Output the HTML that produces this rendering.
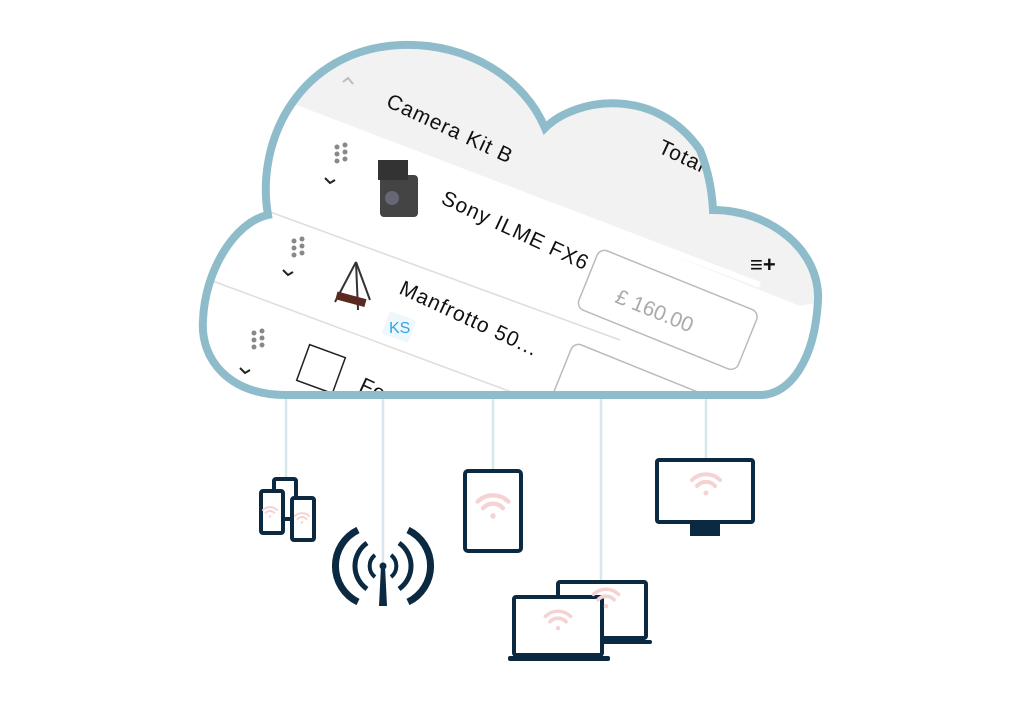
<!DOCTYPE html>
<html><head><meta charset="utf-8"><style>
html,body{margin:0;padding:0;background:#fff;}
svg{display:block;font-family:"Liberation Sans",sans-serif;}
</style></head><body>
<svg width="1024" height="724" viewBox="0 0 1024 724">
<defs>
<clipPath id="c"><path d="M285 395 C230 395 200 360 203 320 C205 270 235 222 268 215 C255 140 300 50 400 45 C470 42 525 80 545 128 C575 98 655 85 700 150 C708 170 712 190 713 210 C770 210 820 250 818 300 C815 360 790 395 760 395 Z"/></clipPath>
<g id="wifi" fill="none" stroke="#f6d3d3" stroke-width="4" stroke-linecap="round">
<path d="M-14 -4 A20 20 0 0 1 14 -4"/><path d="M-9 2 A12 12 0 0 1 9 2"/><circle cx="0" cy="9" r="2.5" fill="#f6d3d3" stroke="none"/>
</g>
</defs>
<g stroke="#d6e7ee" stroke-width="2.5">
<line x1="286" y1="395" x2="286" y2="478"/><line x1="383" y1="395" x2="383" y2="575"/>
<line x1="493" y1="395" x2="493" y2="470"/><line x1="601" y1="395" x2="601" y2="580"/>
<line x1="706" y1="395" x2="706" y2="460"/>
</g>
<g clip-path="url(#c)">
<rect x="190" y="30" width="640" height="380" fill="#fff"/>
<polygon points="200,40 830,40 830,300 800,306 560,210 540,200 262,95 250,80" fill="#f2f2f2"/>
<line x1="262" y1="95" x2="760" y2="285" stroke="#fff" stroke-width="6"/>
<polygon points="470,230 560,245 800,306 470,306" fill="#fff"/>
<g stroke="#ddd" stroke-width="1.5"><line x1="210" y1="190" x2="620" y2="340"/><line x1="210" y1="280" x2="560" y2="410"/></g>
<g font-size="21" fill="#111" letter-spacing="1">
<text transform="translate(385,106) rotate(25)">Camera Kit B</text>
<text transform="translate(657,152) rotate(25)">Total</text>
<text transform="translate(440,203) rotate(25)">Sony ILME FX6</text>
<text transform="translate(398,293) rotate(25)">Manfrotto 50...</text>
<text transform="translate(358,390) rotate(25)">Fo</text>
</g>
<rect x="0" y="0" width="172" height="64" rx="8" fill="#fff" stroke="#bbb" stroke-width="1.5" transform="translate(600,248) rotate(22)"/>
<text transform="translate(614,302) rotate(22)" font-size="21" fill="#aaa">£  160.00</text>
<rect x="0" y="0" width="172" height="64" rx="8" fill="#fff" stroke="#bbb" stroke-width="1.5" transform="translate(574,342) rotate(22)"/>
<rect x="385" y="315" width="28" height="24" rx="3" fill="#eef7fc" transform="rotate(20 399 327)"/>
<text x="389" y="333" font-size="16" fill="#35a3e0">KS</text>
<text x="750" y="272" font-size="22" fill="#111" font-weight="bold">≡+</text>
<g fill="#888"><circle cx="337" cy="147" r="2.5"/><circle cx="345" cy="145" r="2.5"/><circle cx="337" cy="154" r="2.5"/><circle cx="345" cy="152" r="2.5"/><circle cx="337" cy="161" r="2.5"/><circle cx="345" cy="159" r="2.5"/>
<circle cx="294" cy="241" r="2.5"/><circle cx="302" cy="239" r="2.5"/><circle cx="294" cy="248" r="2.5"/><circle cx="302" cy="246" r="2.5"/><circle cx="294" cy="255" r="2.5"/><circle cx="302" cy="253" r="2.5"/>
<circle cx="254" cy="333" r="2.5"/><circle cx="262" cy="331" r="2.5"/><circle cx="254" cy="340" r="2.5"/><circle cx="262" cy="338" r="2.5"/><circle cx="254" cy="347" r="2.5"/><circle cx="262" cy="345" r="2.5"/></g>
<g fill="none" stroke="#222" stroke-width="2"><path d="M325 178 l5 5 l5 -3"/><path d="M283 270 l5 5 l5 -3"/><path d="M240 368 l5 5 l5 -3"/></g>
<path d="M343 82 l5 -4 l5 6" fill="none" stroke="#bbb" stroke-width="2"/>
<g><rect x="380" y="175" width="38" height="42" rx="4" fill="#444"/><rect x="378" y="160" width="30" height="20" fill="#333"/><circle cx="392" cy="198" r="7" fill="#667"/></g>
<g stroke="#333" stroke-width="2"><line x1="356" y1="262" x2="335" y2="302"/><line x1="356" y1="262" x2="358" y2="310"/><line x1="356" y1="262" x2="370" y2="300"/></g>
<rect x="336" y="295" width="30" height="8" fill="#5a2a20" transform="rotate(15 350 299)"/>
<rect x="302" y="350" width="38" height="38" fill="#fff" stroke="#222" stroke-width="1.5" transform="rotate(20 321 369)"/>
</g>
<path d="M285 395 C230 395 200 360 203 320 C205 270 235 222 268 215 C255 140 300 50 400 45 C470 42 525 80 545 128 C575 98 655 85 700 150 C708 170 712 190 713 210 C770 210 820 250 818 300 C815 360 790 395 760 395 Z" fill="none" stroke="#8fbccb" stroke-width="8"/>
<g fill="#fff" stroke="#0c2942" stroke-width="4">
<rect x="274" y="479" width="22" height="40" rx="2"/><rect x="261" y="491" width="22" height="42" rx="2"/><rect x="292" y="498" width="22" height="42" rx="2"/>
<rect x="465" y="471" width="56" height="80" rx="3"/>
<rect x="657" y="460" width="96" height="62" rx="2"/>
<rect x="558" y="582" width="88" height="56" rx="2"/>
<rect x="514" y="597" width="88" height="58" rx="2"/>
</g>
<g fill="#0c2942"><rect x="690" y="524" width="30" height="12"/><rect x="508" y="656" width="102" height="5" rx="2"/><rect x="602" y="640" width="50" height="4" rx="2"/></g>
<use href="#wifi" transform="translate(270,512) scale(0.5)"/><use href="#wifi" transform="translate(302,518) scale(0.5)"/>
<use href="#wifi" transform="translate(493,506) scale(1.1)"/><use href="#wifi" transform="translate(706,484) scale(1)"/>
<use href="#wifi" transform="translate(558,620) scale(0.9)"/><use href="#wifi" transform="translate(606,598) scale(0.9)"/>
<g fill="none" stroke="#0c2942" stroke-linecap="butt">
<path d="M358 530 A40 40 0 0 0 358 602" stroke-width="7"/><path d="M408 530 A40 40 0 0 1 408 602" stroke-width="7"/>
<path d="M367 543 A28 28 0 0 0 367 589" stroke-width="5"/><path d="M399 543 A28 28 0 0 1 399 589" stroke-width="5"/>
<path d="M375 555 A14 14 0 0 0 375 577" stroke-width="4"/><path d="M391 555 A14 14 0 0 1 391 577" stroke-width="4"/>
</g>
<circle cx="383" cy="566" r="3.5" fill="#0c2942"/><polygon points="381,566 385,566 387,606 379,606" fill="#0c2942"/>
</svg>
</body></html>
